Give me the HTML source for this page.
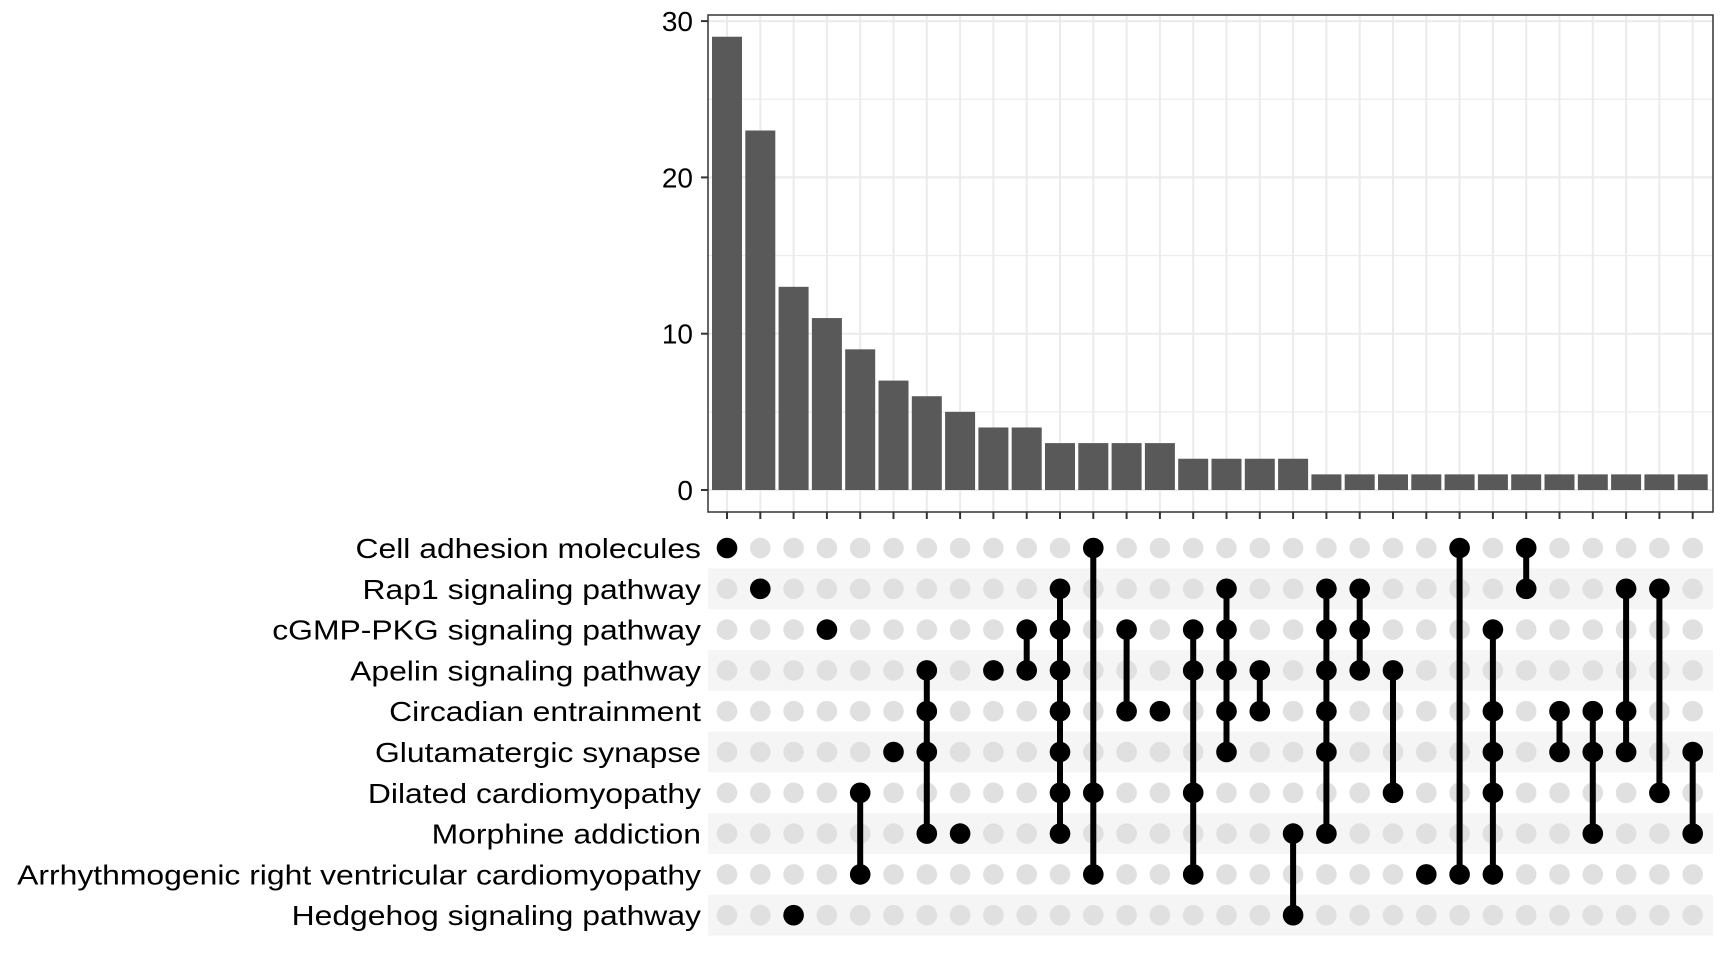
<!DOCTYPE html>
<html><head><meta charset="utf-8"><style>
html,body{margin:0;padding:0;background:#fff;}
svg{display:block;font-family:"Liberation Sans",Arial,sans-serif;}
</style></head><body>
<svg id="chart" width="1728" height="960" viewBox="0 0 1728 960" xmlns="http://www.w3.org/2000/svg">
<g id="bars-panel"></g>
<g id="matrix-panel"></g>
<g id="labels"></g>
</svg>
<script>
const setNames = ["Cell adhesion molecules","Rap1 signaling pathway","cGMP-PKG signaling pathway","Apelin signaling pathway","Circadian entrainment","Glutamatergic synapse","Dilated cardiomyopathy","Morphine addiction","Arrhythmogenic right ventricular cardiomyopathy","Hedgehog signaling pathway"];
const counts = [29,23,13,11,9,7,6,5,4,4,3,3,3,3,2,2,2,2,1,1,1,1,1,1,1,1,1,1,1,1];
const members = [[0],[1],[9],[2],[6,8],[5],[3,4,5,7],[7],[3],[2,3],[1,2,3,4,5,6,7],[0,6,8],[2,4],[4],[2,3,6,8],[1,2,3,4,5],[3,4],[7,9],[1,2,3,4,5,7],[1,2,3],[3,6],[8],[0,8],[2,4,5,6,8],[0,1],[4,5],[4,5,7],[1,4,5],[1,6],[5,7]];
const yTicks = [0,10,20,30];

const NS="http://www.w3.org/2000/svg";
const panelL=708, panelR=1713, panelT=15, panelB=512;
const colX=i=>727+i*33.3;
const yVal=v=>490-v*15.63;
const rowY=r=>548+r*40.8;
function mk(tag,attrs,parent){const e=document.createElementNS(NS,tag);for(const k in attrs)e.setAttribute(k,attrs[k]);parent.appendChild(e);return e;}

const bp=document.getElementById('bars-panel');
for(let v=5;v<=30;v+=5){
  const g=mk('line',{x1:panelL,x2:panelR,y1:yVal(v),y2:yVal(v),stroke:'#ebebeb','stroke-width':v%10===0?2:1.2},bp);
  
  
}
{const g=mk('line',{x1:panelL,x2:panelR,y1:yVal(0),y2:yVal(0),stroke:'#ebebeb','stroke-width':2},bp);
}
counts.forEach((c,i)=>{
  const g=mk('line',{x1:colX(i),x2:colX(i),y1:panelT,y2:panelB,stroke:'#ebebeb','stroke-width':2},bp);
  
  
});
counts.forEach((c,i)=>{
  const r=mk('rect',{x:colX(i)-15,y:yVal(c),width:30,height:yVal(0)-yVal(c),fill:'#595959'},bp);
  
  
  const t=mk('line',{x1:colX(i),x2:colX(i),y1:panelB,y2:panelB+7,stroke:'#333','stroke-width':2},bp);
  
  
});
{const b=mk('rect',{x:panelL,y:panelT,width:panelR-panelL,height:panelB-panelT,fill:'none',stroke:'#333','stroke-width':1.5},bp);
}
yTicks.forEach(v=>{
  const t=mk('line',{x1:701,x2:708,y1:yVal(v),y2:yVal(v),stroke:'#333','stroke-width':2},bp);
  
  
  const l=mk('text',{x:693,y:yVal(v)+10,'text-anchor':'end','font-size':28,fill:'#000'},bp);
  
  
  l.textContent=v;
});

const mp=document.getElementById('matrix-panel');
setNames.forEach((n,r)=>{
  if(r%2===1){
    const s=mk('rect',{x:panelL,y:rowY(r)-20.4,width:panelR-panelL,height:40.8,fill:'#f5f5f5'},mp);
    
    
  }
});
counts.forEach((c,i)=>{
  setNames.forEach((n,r)=>{
    const d=mk('circle',{cx:colX(i),cy:rowY(r),r:10.3,fill:'#e0e0e0'},mp);
    
    
  });
});
members.forEach((m,i)=>{
  const mn=Math.min(...m), mx=Math.max(...m);
  if(m.length>1){
    const l=mk('line',{x1:colX(i),x2:colX(i),y1:rowY(mn),y2:rowY(mx),stroke:'#000','stroke-width':6},mp);
    
    
  }
  m.forEach(r=>{
    const d=mk('circle',{cx:colX(i),cy:rowY(r),r:10.3,fill:'#000'},mp);
    
    
  });
});

const lg=document.getElementById('labels');
const texts=[];
setNames.forEach((n,r)=>{
  const t=mk('text',{x:0,y:rowY(r)+10,'text-anchor':'end','font-size':28,fill:'#000'},lg);
  
  
  t.textContent=n;
  texts.push(t);
});
let maxW=0;texts.forEach(t=>{maxW=Math.max(maxW,t.getComputedTextLength());});
const sx=maxW>0?684/maxW:1;
lg.setAttribute('transform','translate(701,0) scale('+sx+',1)');
</script>
</body></html>
